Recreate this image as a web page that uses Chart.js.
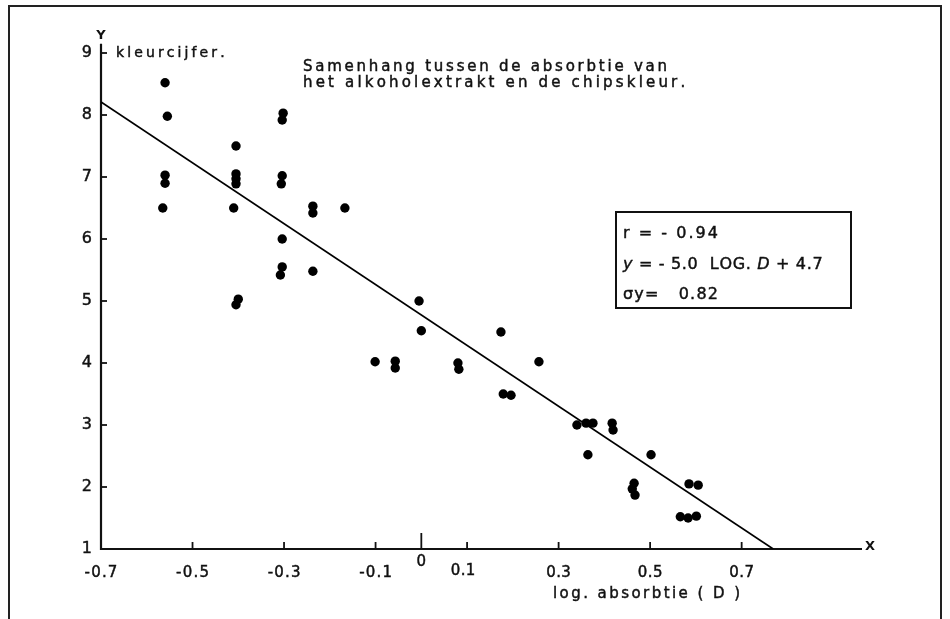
<!DOCTYPE html>
<html>
<head>
<meta charset="utf-8">
<script src="https://cdn.jsdelivr.net/npm/chart.js@4/dist/chart.umd.min.js"></script>
<style>
html,body{margin:0;padding:0;background:#fff;}
#wrap{width:950px;height:619px;}
</style>
</head>
<body>
<div id="wrap"><canvas id="c" width="950" height="619"></canvas></div>
<script>
// ---- data ----
const logAbsorbtie = [-0.56,-0.555,-0.56,-0.56,-0.565,-0.405,-0.405,-0.405,-0.405,-0.41,-0.40,-0.405,
  -0.302,-0.304,-0.304,-0.306,-0.304,-0.304,-0.308,-0.237,-0.237,-0.237,-0.167,-0.005,0.0,
  -0.101,-0.057,-0.057,0.080,0.082,0.174,0.257,0.179,0.196,0.340,0.360,0.375,0.417,0.419,
  0.364,0.502,0.465,0.461,0.467,0.585,0.605,0.566,0.583,0.601];
const kleurcijfer = [8.52,7.98,7.03,6.90,6.50,7.50,7.05,6.97,6.89,6.50,5.03,4.94,
  8.03,7.92,7.02,6.89,6.00,5.55,5.42,6.53,6.42,5.48,6.50,5.00,4.52,
  4.02,4.03,3.92,4.00,3.90,4.50,4.02,3.50,3.48,3.00,3.03,3.03,3.03,2.92,
  2.52,2.52,2.06,1.97,1.87,2.05,2.03,1.52,1.50,1.53];
const lineX = [-0.7, 0.769];
const lineY = [8.21, 1.0];
const xTickValues = [-0.7,-0.5,-0.3,-0.1,0,0.1,0.3,0.5,0.7];
const xTickLabels = ["-0.7","-0.5","-0.3","-0.1","0","0.1","0.3","0.5","0.7"];
const yTickValues = [1,2,3,4,5,6,7,8,9];
const yTickLabels = ["1","2","3","4","5","6","7","8","9"];
const titleLines = ["Samenhang tussen de absorbtie van","het alkoholextrakt en de chipskleur."];
const statR = "r = - 0.94";
const statEq = [["y",true],[" = - 5.0  LOG. ",false],["D",true],[" + 4.7",false]];
const statSigma = "\u03c3y=   0.82";
const xTitle = "log. absorbtie ( D )";
const yTitle = "kleurcijfer.";

const scatterPts = logAbsorbtie.map((x,i)=>({x:x,y:kleurcijfer[i]}));
const linePts = lineX.map((x,i)=>({x:x,y:lineY[i]}));

const FONT = '"DejaVu Sans", "Liberation Sans", sans-serif';

function ink(ctx, ch, x, y){
  ctx.fillText(ch, x, y);
  ctx.strokeText(ch, x, y);
}
// segments: [[text, italic], ...]
function spacedSegs(ctx, segs, size, x, y, width, align){
  const fontOf = it => (it?'italic ':'') + size + 'px ' + FONT;
  let w0 = 0, n = 0;
  segs.forEach(([t,it])=>{ ctx.font = fontOf(it); w0 += ctx.measureText(t).width; n += t.length; });
  const sp = n>1 && width ? (width - w0)/(n-1) : 0;
  const total = w0 + sp*(n-1);
  let cx = x;
  if(align==='center') cx = x - total/2;
  else if(align==='right') cx = x - total;
  ctx.textAlign='left';
  ctx.lineWidth = 0.45;
  ctx.strokeStyle = ctx.fillStyle;
  segs.forEach(([t,it])=>{
    ctx.font = fontOf(it);
    for(const ch of t){
      ink(ctx, ch, cx, y);
      cx += ctx.measureText(ch).width + sp;
    }
  });
}
function spacedText(ctx, txt, size, x, y, width, align){
  spacedSegs(ctx, [[txt,false]], size, x, y, width, align);
}

const decor = {
  id:'decor',
  beforeDatasetsDraw(chart){
    const ctx = chart.ctx, xs = chart.scales.x, ys = chart.scales.y;
    ctx.save();
    // outer frame
    ctx.strokeStyle='#222'; ctx.lineWidth=2;
    ctx.beginPath();
    ctx.moveTo(9,619); ctx.lineTo(9,6); ctx.lineTo(941,6); ctx.lineTo(941,619);
    ctx.stroke();

    const x0 = xs.getPixelForValue(-0.7), y0 = ys.getPixelForValue(1);
    // axes
    ctx.strokeStyle='#111'; ctx.lineWidth=2.2;
    ctx.beginPath();
    ctx.moveTo(x0, ys.getPixelForValue(9.15)); ctx.lineTo(x0, y0);
    ctx.lineTo(xs.getPixelForValue(0.963), y0);
    ctx.stroke();
    // x ticks (pointing up)
    ctx.lineWidth=1.8;
    xTickValues.forEach(v=>{
      if(v===-0.7) return;
      const px = xs.getPixelForValue(v);
      ctx.beginPath(); ctx.moveTo(px,y0); ctx.lineTo(px, y0-(v===0?16:7)); ctx.stroke();
    });
    // y ticks (pointing right)
    yTickValues.forEach(v=>{
      if(v===1) return;
      const py = ys.getPixelForValue(v);
      ctx.beginPath(); ctx.moveTo(x0,py); ctx.lineTo(x0+6,py); ctx.stroke();
    });
    // tick labels
    ctx.fillStyle='#111';
    ctx.textBaseline='middle';
    xTickValues.forEach((v,i)=>{
      const px = xs.getPixelForValue(v);
      const py = v===0 ? y0+13 : (v===0.1 ? y0+22 : y0+24);
      const lbl = xTickLabels[i];
      spacedText(ctx, lbl, 15, v===0.1 ? px-4 : px, py, lbl.length>1 ? lbl.length*8.2 : 0, 'center');
    });
    yTickValues.forEach((v,i)=>{
      const py = ys.getPixelForValue(v);
      spacedText(ctx, yTickLabels[i], 16, x0-9, py, 0, 'right');
    });
    // axis letters
    ctx.font='bold 13px '+FONT;
    ctx.textAlign='center';
    ctx.fillText('Y', x0, 36);
    ctx.fillText('X', xs.getPixelForValue(0.963)+8, y0-2);
    // axis titles
    ctx.textBaseline='alphabetic';
    spacedText(ctx, yTitle, 14, 116, 57, 107, 'left');
    spacedText(ctx, xTitle, 15, 553, 598, 187, 'left');
    // chart title
    spacedText(ctx, titleLines[0], 15, 303, 71, 364, 'left');
    spacedText(ctx, titleLines[1], 15, 303, 87, 380, 'left');
    // stats box
    ctx.lineWidth=2; ctx.strokeStyle='#111';
    ctx.strokeRect(616,212,235,96);
    spacedText(ctx, statR, 16, 623, 238, 95, 'left');
    spacedSegs(ctx, statEq, 16, 623, 269, 199, 'left');
    spacedText(ctx, statSigma, 16, 623, 299, 95, 'left');
    ctx.restore();
  }
};

new Chart(document.getElementById('c'), {
  type:'scatter',
  data:{datasets:[
    {label:'metingen', data:scatterPts, backgroundColor:'#000', borderColor:'#000',
     pointRadius:4.7, pointBorderWidth:0, showLine:false},
    {label:'regressie', data:linePts, borderColor:'#000', borderWidth:1.7,
     pointRadius:0, showLine:true, fill:false}
  ]},
  options:{
    responsive:false, animation:false,
    layout:{padding:{left:101, right:88, top:53, bottom:70}},
    plugins:{legend:{display:false}, tooltip:{enabled:false}},
    scales:{
      x:{type:'linear', min:-0.7, max:0.963, display:false},
      y:{type:'linear', min:1, max:9, display:false}
    }
  },
  plugins:[decor]
});
</script>
</body>
</html>
